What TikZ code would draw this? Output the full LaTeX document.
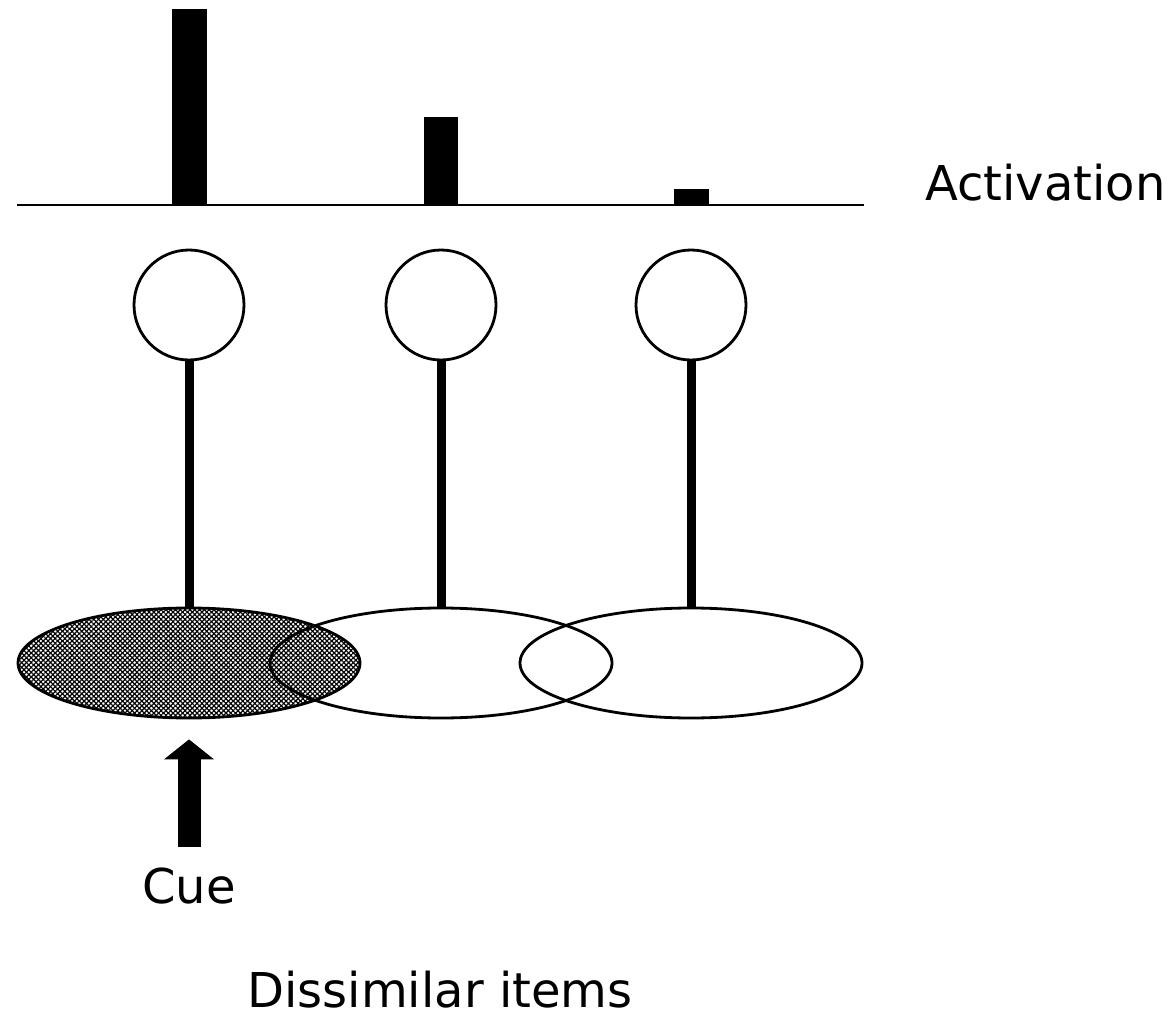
\documentclass[tikz,border=0pt]{standalone}
\usepackage{fontspec}
\setmainfont{DejaVu Sans}
\usetikzlibrary{shapes.geometric,patterns.meta,arrows.meta}
\begin{document}
\begin{tikzpicture}[x=1pt,y=-1pt,
  unitnode/.style={circle,draw=black,line width=2.8pt,minimum size=110pt,inner sep=0pt,fill=white},
  itemnode/.style={ellipse,draw=black,line width=2.8pt,minimum width=342pt,minimum height=110pt,inner sep=0pt},
  cuefill/.style={fill=white,
    postaction={pattern={Lines[angle=45,distance=3.4pt,line width=1.2pt]}},
    postaction={pattern={Lines[angle=-45,distance=3.4pt,line width=1.2pt]}}},
  stem/.style={line width=9pt},
  barbox/.style={fill=black,draw=none},
  lbl/.style={font=\fontsize{48}{56}\selectfont,inner sep=0pt,text depth=0pt}]
\useasboundingbox (0,0) rectangle (1176,1016);
% bars
\fill[barbox] (172,9) rectangle (207,205);
\fill[barbox] (424,117) rectangle (458,205);
\fill[barbox] (674,189) rectangle (709,205);
\coordinate (bl) at (17,205);
\coordinate (br) at (864,205);
\draw[line width=1.6pt] (bl) -- (br);
\node[lbl,anchor=base west] (act) at (925,201) {Activation};
% units
\node[unitnode] (u1) at (189,305) {};
\node[unitnode] (u2) at (441,305) {};
\node[unitnode] (u3) at (691,305) {};
% items
\node[itemnode,cuefill] (e1) at (189,663) {};
\node[itemnode] (e2) at (441,663) {};
\node[itemnode] (e3) at (691,663) {};
% stems
\draw[stem] (u1.south) -- (e1.north);
\draw[stem] (u2.south) -- (e2.north);
\draw[stem] (u3.south) -- (e3.north);
% cue
\node[lbl,anchor=base] (cue) at (189,903) {Cue};
\draw[line width=23pt,-{Triangle[length=20pt,width=49pt]}] ([yshift=20pt]cue.north) -- ([yshift=-20pt]e1.south);
\node[lbl,anchor=base] (dis) at (440,1007) {Dissimilar items};
\end{tikzpicture}
\end{document}
